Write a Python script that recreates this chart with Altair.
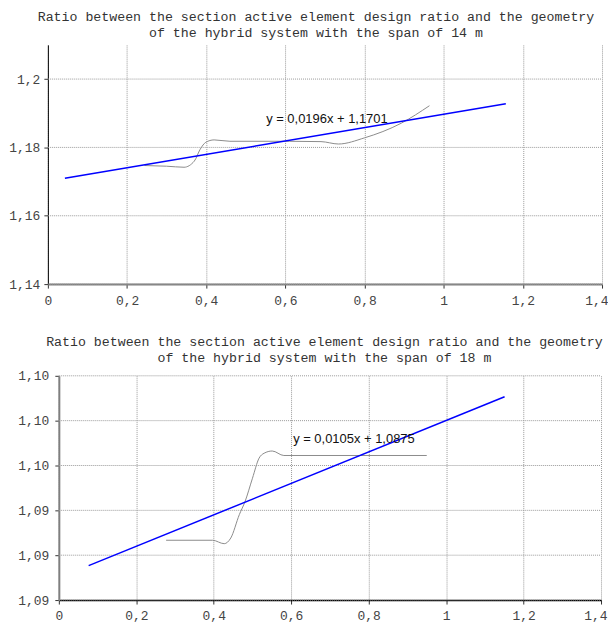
import json
import altair as alt
import pandas as pd

# ---------------- data ----------------
x_ticks = [0, 0.2, 0.4, 0.6, 0.8, 1.0, 1.2, 1.4]
x_labels = ["0", "0,2", "0,4", "0,6", "0,8", "1", "1,2", "1,4"]

# chart 1 (span 14 m)
top_title = ["Ratio between the section active element design ratio and the geometry",
             "of the hybrid system with the span of 14 m"]
top_y_ticks = [1.14, 1.16, 1.18, 1.2]
top_y_labels = ["1,14", "1,16", "1,18", "1,2"]
top_curve_x = [0.244, 0.30, 0.344, 0.37, 0.385, 0.399, 0.42, 0.46, 0.61, 0.69, 0.734, 0.80, 0.893, 0.964]
top_curve_y = [1.1747, 1.1745, 1.1742, 1.1760, 1.1795, 1.1815, 1.1822, 1.1818, 1.1818, 1.1817, 1.1810, 1.1828, 1.1871, 1.1922]
top_trend_x = [0.043, 1.157]
top_trend_y = [1.1710, 1.1928]
top_eq = "y = 0,0196x + 1,1701"
top_eq_pos = (0.705, 1.1884)

# chart 2 (span 18 m)
bot_title = ["Ratio between the section active element design ratio and the geometry",
             "of the hybrid system with the span of 18 m"]
bot_y_ticks = [1.086, 1.089, 1.092, 1.095, 1.098, 1.101]
bot_y_labels = ["1,09", "1,09", "1,09", "1,10", "1,10", "1,10"]
bot_curve_x = [0.277, 0.397, 0.427, 0.444, 0.466, 0.481, 0.500, 0.517, 0.530, 0.551, 0.581, 0.950]
bot_curve_y = [1.0900, 1.0900, 1.08977, 1.09015, 1.09171, 1.0926, 1.09415, 1.09549, 1.09582, 1.09597, 1.09567, 1.09567]
bot_trend_x = [0.077, 1.151]
bot_trend_y = [1.0883, 1.0996]
bot_eq = "y = 0,0105x + 1,0875"
bot_eq_pos = (0.762, 1.0968)

GRID = "#9a9a9a"


def label_expr(vals, labs):
    return "%s[indexof(%s, datum.value)]" % (json.dumps(labs), json.dumps(vals))


def panel(title, y_ticks, y_labels, cx, cy, tx, ty, eq, eq_pos, ydom,
          width, height, shift, lab_pad, x_dom_color, x_dom_w, y_dom_color, y_dom_w,
          title_dx, title_off):
    curve = pd.DataFrame({"x": cx, "y": cy})
    trend = pd.DataFrame({"x": tx, "y": ty})
    lab = pd.DataFrame({"x": [eq_pos[0]], "y": [eq_pos[1]], "t": [eq]})
    ticks = pd.DataFrame({"y": y_ticks})

    xs = alt.Scale(domain=[0, 1.4], nice=False, zero=False, range=[shift, width])
    ys = alt.Scale(domain=ydom, nice=False, zero=False)
    xa = alt.Axis(values=x_ticks, labelExpr=label_expr(x_ticks, x_labels), title=None,
                  domainColor=x_dom_color, domainWidth=x_dom_w, labelPadding=6,
                  labelAlign={"condition": {"test": "datum.value >= 1.39", "value": "right"},
                              "value": "center"},
                  labelOffset={"condition": {"test": "datum.value >= 1.39", "value": 6},
                               "value": 0})
    ya = alt.Axis(values=y_ticks, labelExpr=label_expr(y_ticks, y_labels), title=None,
                  domainColor=y_dom_color, domainWidth=y_dom_w, labelPadding=lab_pad,
                  minExtent=40, maxExtent=40, grid=False, offset=-shift)
    X = alt.X("x:Q", scale=xs, axis=xa)
    Y = alt.Y("y:Q", scale=ys, axis=ya)

    hgrid = alt.Chart(ticks).mark_rule(color=GRID, strokeDash=[1, 1], strokeWidth=1).encode(
        y=Y, x=alt.value(shift), x2=alt.value(width))
    c_line = alt.Chart(curve).mark_line(color="#8c8c8c", strokeWidth=1, interpolate="monotone").encode(x=X, y=Y)
    t_line = alt.Chart(trend).mark_line(color="#0000ff", strokeWidth=1.5).encode(x=X, y=Y)
    t_text = alt.Chart(lab).mark_text(font="Liberation Sans", fontSize=13, color="#111").encode(
        x=X, y=Y, text="t:N")
    return alt.layer(hgrid, c_line, t_line, t_text).properties(
        width=width, height=height,
        title=alt.TitleParams(text=title, dx=title_dx, offset=title_off))


top = panel(top_title, top_y_ticks, top_y_labels, top_curve_x, top_curve_y,
            top_trend_x, top_trend_y, top_eq, top_eq_pos, [1.14, 1.21],
            556, 240, 0, 4, "#7f7f7f", 2, "#000000", 1, -9, 6)
bot = panel(bot_title, bot_y_ticks, bot_y_labels, bot_curve_x, bot_curve_y,
            bot_trend_x, bot_trend_y, bot_eq, bot_eq_pos, [1.086, 1.101],
            555, 225, 11, 6, "#000000", 1.5, "#7f7f7f", 2, 0, 6)

chart = alt.vconcat(top, bot, spacing=27).configure_view(stroke=None).configure_axis(
    labelFont="Liberation Mono", labelFontSize=13, labelColor="#444",
    tickSize=4, tickColor="#333", gridColor=GRID, gridDash=[1, 1], gridWidth=1,
).configure_title(
    font="Liberation Mono", fontSize=13.3, fontWeight="normal", color="#333",
    lineHeight=16, anchor="middle"
).properties(padding={"left": 0, "top": 0, "right": 0, "bottom": 0})

chart.save("out.html", embed_options={"renderer": "svg", "actions": False})
